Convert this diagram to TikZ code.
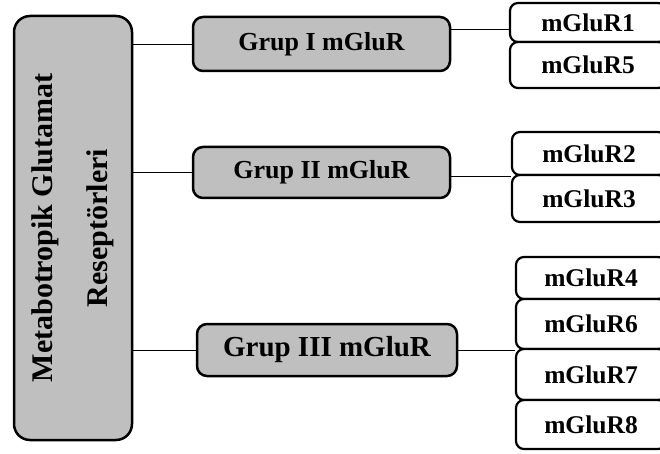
\documentclass[tikz,border=0pt]{standalone}
\usepackage{fontspec}
\setmainfont{Liberation Serif}

\begin{document}
\begin{tikzpicture}[x=1pt,y=-1pt,
  root/.style={draw,line width=2.5pt,rounded corners=16pt,fill=black!25,rotate=90,align=center,inner sep=0pt,font=\fontsize{30}{55}\selectfont\bfseries},
  grp/.style={draw,line width=2.5pt,rounded corners=10pt,fill=black!25,inner sep=0pt,font=\fontsize{26}{30}\selectfont\bfseries},
  sub/.style={draw,line width=2.2pt,rounded corners=8pt,fill=white,inner sep=0pt,font=\fontsize{25.5}{30}\selectfont\bfseries},
  link/.style={line width=0.9pt}]
  \useasboundingbox (0,0) rectangle (660,454);
  % main box
  \node[root,minimum width=424pt,minimum height=118pt] (root) at (73,228) {Metabotropik Glutamat\\Reseptörleri};
  % groups
  \node[grp,minimum width=257pt,minimum height=54pt] (grp1) at (321.5,44) {Grup I mGluR};
  \node[grp,minimum width=257pt,minimum height=51pt] (grp2) at (321.5,172.5) {Grup II mGluR};
  \node[grp,minimum width=260pt,minimum height=52pt,font=\fontsize{29}{32}\selectfont\bfseries] (grp3) at (327,350) {Grup III mGluR};
  % receptors
  \node[sub,minimum width=156pt,minimum height=39pt] (r1) at (588,22.5) {mGluR1};
  \node[sub,minimum width=156pt,minimum height=46pt] (r5) at (588,65) {mGluR5};
  \node[sub,minimum width=154pt,minimum height=43pt] (r2) at (589,153.5) {mGluR2};
  \node[sub,minimum width=154pt,minimum height=47pt] (r3) at (589,198.5) {mGluR3};
  \node[sub,minimum width=150pt,minimum height=42pt] (r4) at (591,278) {mGluR4};
  \node[sub,minimum width=150pt,minimum height=50pt] (r6) at (591,324) {mGluR6};
  \node[sub,minimum width=150pt,minimum height=51pt] (r7) at (591,374.5) {mGluR7};
  \node[sub,minimum width=150pt,minimum height=49pt] (r8) at (591,424.5) {mGluR8};
  % links
  \draw[link] (root.south |- grp1.west) -- (grp1.west);
  \draw[link] (root.south |- grp2.west) -- (grp2.west);
  \draw[link] (root.south |- grp3.west) -- (grp3.west);
  \coordinate (j1) at ([yshift=-6.5pt]r1.west);
  \draw[link] (grp1.east |- j1) -- (j1);
  \draw[link] (grp2.east |- r2.south west) -- (r2.south west);
  \draw[link] (grp3.east |- r6.south west) -- (r6.south west);
\end{tikzpicture}
\end{document}
